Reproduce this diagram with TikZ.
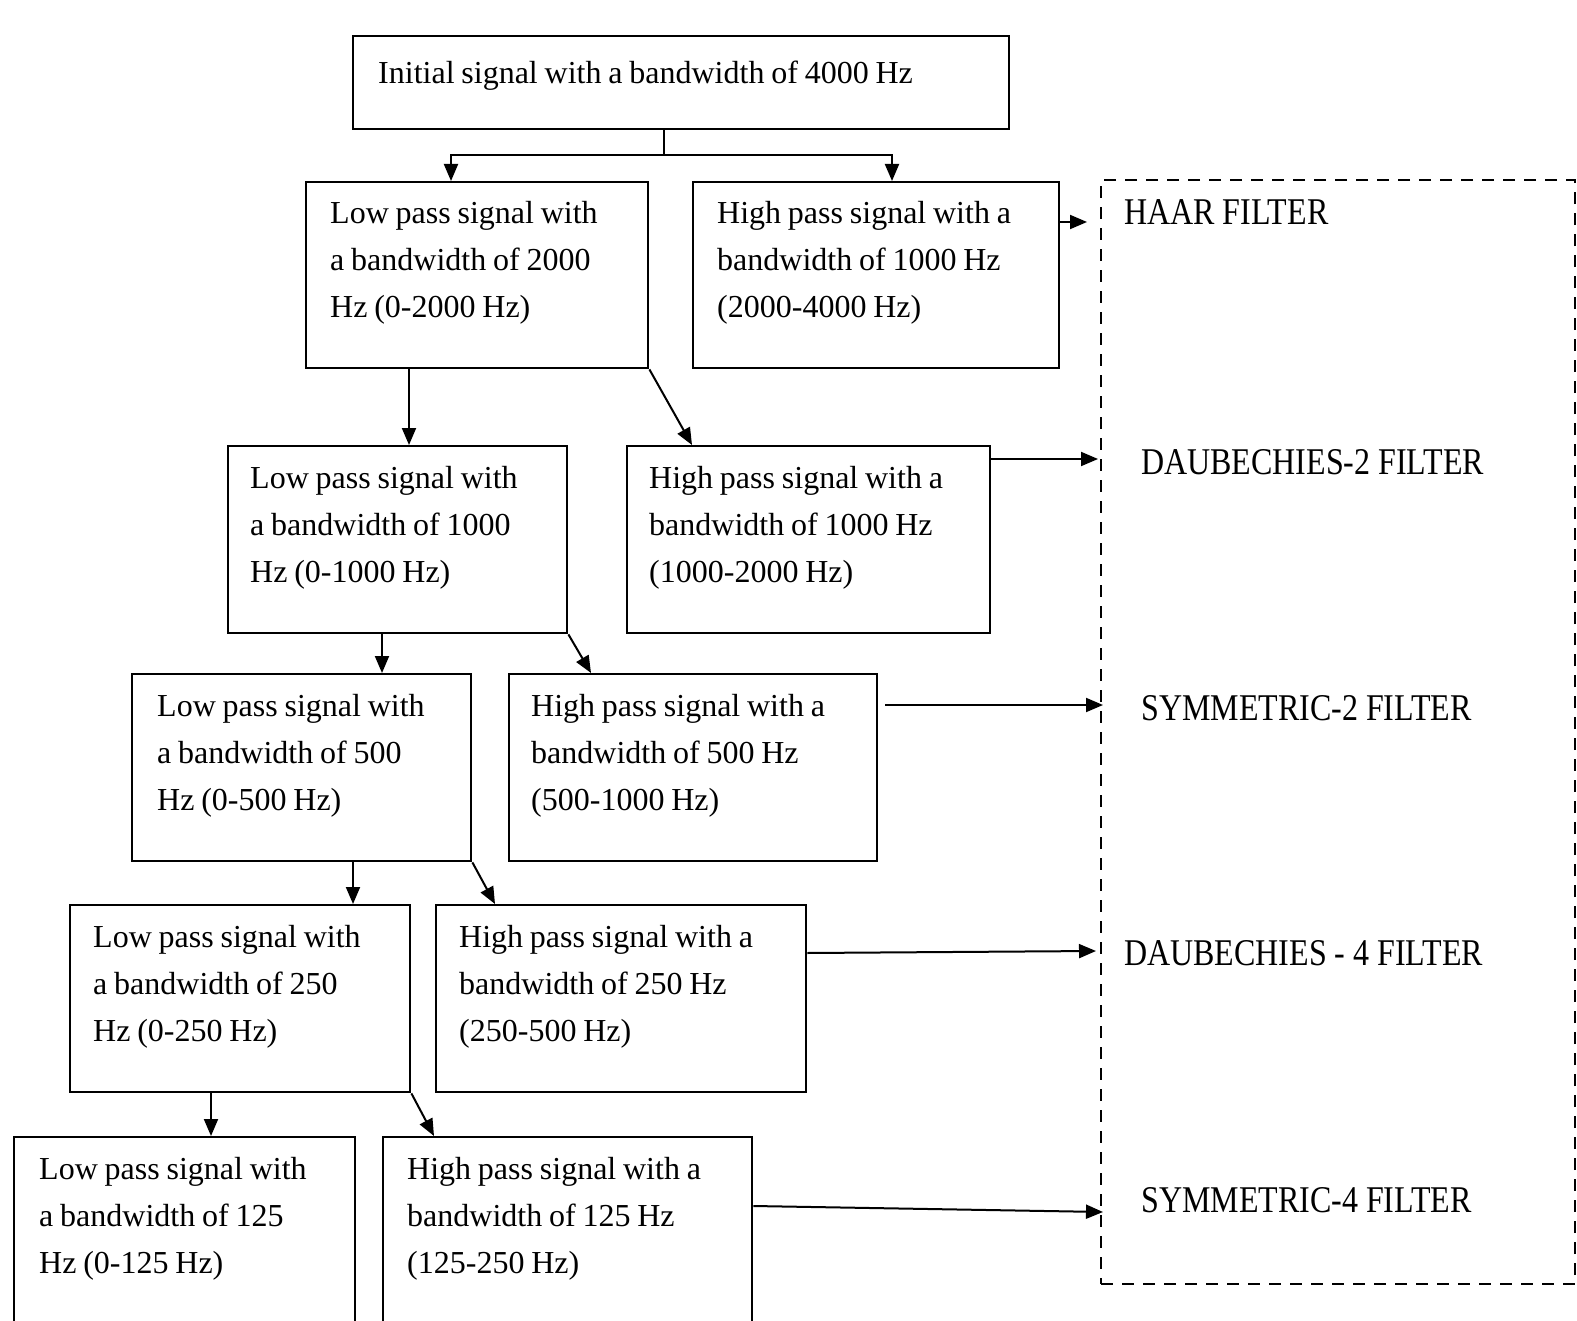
\documentclass[tikz,border=0pt]{standalone}
\usepackage{fontspec}
\setmainfont{Liberation Serif}
\usetikzlibrary{arrows.meta}
\newcommand\tightsp{\spaceskip=6.8pt plus 1pt minus 0.5pt\relax}
\begin{document}
\begin{tikzpicture}[x=1pt,y=-1pt,
  box/.style={draw,line width=2.4pt,rectangle,anchor=north west,inner sep=0pt},
  txt/.style={anchor=base west,inner sep=0pt,align=left,text width=340pt,font=\fontsize{32}{47}\selectfont,execute at begin node=\tightsp},
  flab/.style={anchor=base west,inner sep=0pt,font=\fontsize{32}{40}\selectfont},
  arr/.style={line width=2pt,-{Triangle[length=17pt,width=14pt]}},
  dashbox/.style={draw,line width=2.4pt,dash pattern=on 12pt off 9pt,rectangle,anchor=north west,inner sep=0pt}
]
\useasboundingbox (0,0) rectangle (1577,1321);
\clip (0,0) rectangle (1577,1321);

% boxes
\node[box,minimum width=656pt,minimum height=93pt] (top) at (352,35) {};
\node[box,minimum width=342pt,minimum height=186pt] (low1) at (305,181) {};
\node[box,minimum width=366pt,minimum height=186pt] (high1) at (692,181) {};
\node[box,minimum width=339pt,minimum height=187pt] (low2) at (227,445) {};
\node[box,minimum width=363pt,minimum height=187pt] (high2) at (626,445) {};
\node[box,minimum width=339pt,minimum height=187pt] (low3) at (131,673) {};
\node[box,minimum width=368pt,minimum height=187pt] (high3) at (508,673) {};
\node[box,minimum width=340pt,minimum height=187pt] (low4) at (69,904) {};
\node[box,minimum width=370pt,minimum height=187pt] (high4) at (435,904) {};
\node[box,minimum width=341pt,minimum height=240pt] (low5) at (13,1136) {};
\node[box,minimum width=369pt,minimum height=240pt] (high5) at (382,1136) {};
\node[dashbox,minimum width=474pt,minimum height=1104pt] (filt) at (1100,179) {};

% texts
\node[txt,text width=620pt] (topt) at ([shift={(26pt,-49pt)}]top.north west) {Initial signal with a bandwidth of 4000 Hz};
\node[txt] (low1t) at ([shift={(25pt,-43pt)}]low1.north west) {Low pass signal with\\a bandwidth of 2000\\Hz (0-2000 Hz)};
\node[txt] (high1t) at ([shift={(25pt,-43pt)}]high1.north west) {High pass signal with a\\bandwidth of 1000 Hz\\(2000-4000 Hz)};
\node[txt] (low2t) at ([shift={(23pt,-43pt)}]low2.north west) {Low pass signal with\\a bandwidth of 1000\\Hz (0-1000 Hz)};
\node[txt] (high2t) at ([shift={(23pt,-43pt)}]high2.north west) {High pass signal with a\\bandwidth of 1000 Hz\\(1000-2000 Hz)};
\node[txt] (low3t) at ([shift={(26pt,-43pt)}]low3.north west) {Low pass signal with\\a bandwidth of 500\\Hz (0-500 Hz)};
\node[txt] (high3t) at ([shift={(23pt,-43pt)}]high3.north west) {High pass signal with a\\bandwidth of 500 Hz\\(500-1000 Hz)};
\node[txt] (low4t) at ([shift={(24pt,-43pt)}]low4.north west) {Low pass signal with\\a bandwidth of 250\\Hz (0-250 Hz)};
\node[txt] (high4t) at ([shift={(24pt,-43pt)}]high4.north west) {High pass signal with a\\bandwidth of 250 Hz\\(250-500 Hz)};
\node[txt] (low5t) at ([shift={(26pt,-43pt)}]low5.north west) {Low pass signal with\\a bandwidth of 125\\Hz (0-125 Hz)};
\node[txt] (high5t) at ([shift={(25pt,-43pt)}]high5.north west) {High pass signal with a\\bandwidth of 125 Hz\\(125-250 Hz)};

% filter labels
\node[flab] (haar) at (1124,225) {\scalebox{1}[1.18]{HAAR FILTER}};
\node[flab] (db2) at (1141,474) {\scalebox{1}[1.18]{DAUBECHIES-2 FILTER}};
\node[flab] (sym2) at (1141,720) {\scalebox{1}[1.18]{SYMMETRIC-2 FILTER}};
\node[flab] (db4) at (1124,965) {\scalebox{1}[1.18]{DAUBECHIES - 4 FILTER}};
\node[flab] (sym4) at (1141,1212) {\scalebox{1}[1.18]{SYMMETRIC-4 FILTER}};

% top split
\coordinate (ts) at ([xshift=312pt]top.south west);
\coordinate (tl) at ([xshift=146pt]low1.north west);
\coordinate (th) at ([xshift=200pt]high1.north west);
\draw[arr] (ts) -- ++(0,25) -| (tl);
\draw[arr] (ts) -- ++(0,25) -| (th);

% cascade
\coordinate (c1) at ([xshift=104pt]low1.south west);
\draw[arr] (c1) -- (c1 |- low2.north);
\coordinate (d1) at ([xshift=66pt]high2.north west);
\draw[arr] (low1.south east) -- (d1);
\coordinate (c2) at ([xshift=155pt]low2.south west);
\draw[arr] (c2) -- (c2 |- low3.north);
\coordinate (d2) at ([xshift=83pt]high3.north west);
\draw[arr] (low2.south east) -- (d2);
\coordinate (c3) at ([xshift=222pt]low3.south west);
\draw[arr] (c3) -- (c3 |- low4.north);
\coordinate (d3) at ([xshift=60pt]high4.north west);
\draw[arr] (low3.south east) -- (d3);
\coordinate (c4) at ([xshift=142pt]low4.south west);
\draw[arr] (c4) -- (c4 |- low5.north);
\coordinate (d4) at ([xshift=52pt]high5.north west);
\draw[arr] (low4.south east) -- (d4);

% filter arrows
\coordinate (f1s) at ([yshift=-41pt]high1.north east);
\coordinate (f1e) at (1087,222);
\draw[arr] (f1s) -- (f1e);
\coordinate (f2s) at ([yshift=-14pt]high2.north east);
\coordinate (f2e) at ([xshift=-2pt]f2s -| filt.west);
\draw[arr] (f2s) -- (f2e);
\coordinate (f3s) at ([shift={(7pt,-32pt)}]high3.north east);
\coordinate (f3e) at ([xshift=3pt]f3s -| filt.west);
\draw[arr] (f3s) -- (f3e);
\coordinate (f4s) at ([yshift=-49pt]high4.north east);
\coordinate (f4e) at (1096,951);
\draw[arr] (f4s) -- (f4e);
\coordinate (f5s) at ([yshift=-70pt]high5.north east);
\coordinate (f5e) at (1103,1212);
\draw[arr] (f5s) -- (f5e);
\end{tikzpicture}
\end{document}
